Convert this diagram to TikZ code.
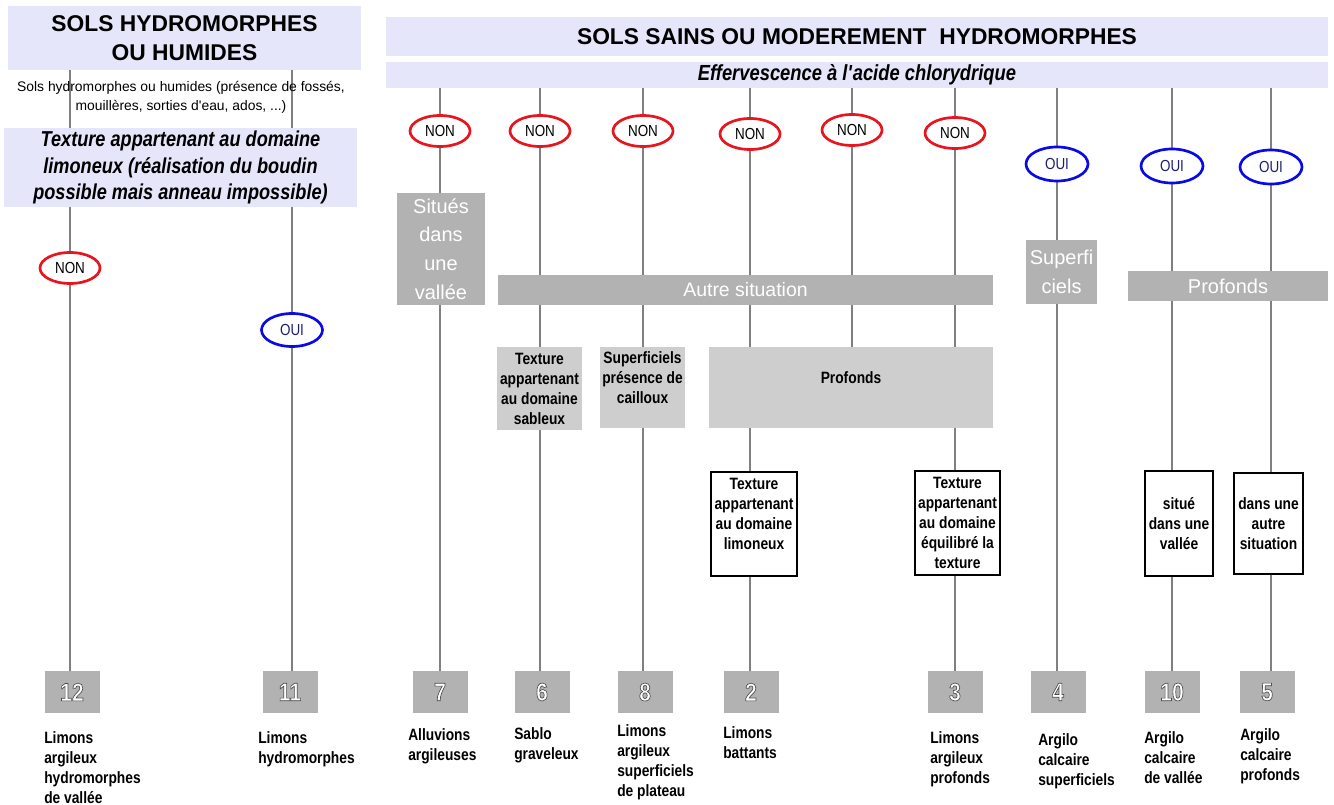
\documentclass[tikz,border=0pt]{standalone}
\usepackage{fontspec}
\setmainfont{Liberation Sans}
\newfontfamily\narr[FakeStretch=0.84]{Liberation Sans}
\usetikzlibrary{shapes.geometric,backgrounds}
\definecolor{lav}{RGB}{230,230,250}
\definecolor{boxgray}{RGB}{178,178,178}
\definecolor{lightbox}{RGB}{206,206,206}
\definecolor{linegray}{RGB}{128,128,128}
\definecolor{nonred}{RGB}{232,20,30}
\definecolor{ouiblue}{RGB}{10,10,230}
\definecolor{ouitext}{RGB}{30,30,110}
\newcommand\outl[1]{\special{pdf:literal direct 0.3 0.3 0.3 RG 0.5 w 2 Tr}#1\special{pdf:literal direct 0 Tr}}
\begin{document}
\begin{tikzpicture}[x=0.75pt,y=-0.75pt,
  wh/.style 2 args={minimum width=#1*0.75pt, minimum height=#2*0.75pt},
  base/.style={inner sep=0pt, outer sep=0pt, align=center},
  hdr/.style={base, fill=lav},
  gbox/.style={base, fill=boxgray, text=white, font=\fontsize{15}{21.5}\selectfont},
  lbox/.style={base, fill=lightbox, font=\narr\bfseries\fontsize{12.3}{15}\selectfont},
  wbox/.style={base, draw=black, line width=0.8pt, fill=white, font=\narr\bfseries\fontsize{12.3}{15}\selectfont},
  nonE/.style={ellipse, draw=nonred, line width=2pt, fill=white, inner sep=0pt, outer sep=0pt, wh={60}{31}, font=\narr\fontsize{12}{13}\selectfont},
  ouiE/.style={ellipse, draw=ouiblue, line width=2pt, fill=white, inner sep=0pt, outer sep=0pt, wh={61}{33}, text=ouitext, font=\narr\fontsize{12}{13}\selectfont},
  numbox/.style={base, fill=boxgray, wh={55}{42}, text=white, font=\narr\bfseries\fontsize{19}{20}\selectfont},
  lbl/.style={inner sep=0pt, anchor=north west, align=left, font=\narr\bfseries\fontsize{12.3}{15}\selectfont},
  ln/.style={draw=linegray, line width=2.2pt}]
\useasboundingbox (0,0) rectangle (1334,805);

% headers
\node[hdr, wh={353}{64}, font=\bfseries\fontsize{17.1}{21.75}\selectfont] (hleft) at (184.5,38) {SOLS HYDROMORPHES\\OU HUMIDES};
\node[base, font=\fontsize{10.4}{14.25}\selectfont] (sub) at (181,97) {Sols hydromorphes ou humides (présence de fossés,\\mouillères, sorties d\textquotesingle eau, ados, ...)};
\node[hdr, wh={353}{79}, font=\narr\bfseries\itshape\fontsize{16.2}{19.9}\selectfont] (tex) at (180.5,167.5) {Texture appartenant au domaine\\limoneux (réalisation du boudin\\possible mais anneau impossible)};
\node[hdr, wh={942}{39}, font=\bfseries\fontsize{17.1}{20}\selectfont] (hright) at (857,36.5) {SOLS SAINS OU MODEREMENT\ \ HYDROMORPHES};
\node[hdr, wh={942}{26}, font=\narr\bfseries\itshape\fontsize{16.4}{17}\selectfont] (eff) at (857,75) {Effervescence à l\textquotesingle acide chlorydrique};

% ellipses
\node[nonE] (nonL) at (70,268) {NON};
\node[ouiE] (ouiL) at (292,330) {OUI};
\node[nonE] (n7) at (440,131) {NON};
\node[nonE] (n6) at (540,131) {NON};
\node[nonE] (n8) at (643,131) {NON};
\node[nonE] (n2) at (750,134) {NON};
\node[nonE] (n5) at (852,130) {NON};
\node[nonE] (n3) at (955,133) {NON};
\node[ouiE, wh={62}{34}] (o4) at (1057,164) {OUI};
\node[ouiE, wh={62}{34}] (o10) at (1172,166) {OUI};
\node[ouiE, wh={62}{34}] (o5) at (1271,167) {OUI};

% gray boxes
\node[gbox, wh={88}{112}] (sit) at (441,249) {Situés\\dans\\une\\vallée};
\node[gbox, wh={495}{30}, font=\fontsize{14.6}{16}\selectfont] (autre) at (745.5,290) {Autre situation};
\node[gbox, wh={71}{64}] (sup4) at (1061.5,272) {Superfi\\ciels};
\node[gbox, wh={200}{30}, font=\fontsize{15}{16}\selectfont] (prof2) at (1228,286) {Profonds};

% light boxes
\node[lbox, wh={85}{83}] (sab) at (539.5,388.5) {Texture\\appartenant\\au domaine\\sableux};
\node[lbox, wh={85}{81}] (supc) at (642.5,387.5) {Superficiels\\présence de\\cailloux\\~};
\node[lbox, wh={284}{81}] (prof1) at (851,387.5) {Profonds\\~};

% white boxes
\node[wbox, wh={86}{104}] (lim) at (754,524) {Texture\\appartenant\\au domaine\\limoneux\\~};
\node[wbox, wh={85}{104}] (equ) at (957.5,523) {Texture\\appartenant\\au domaine\\équilibré la\\texture};
\node[wbox, wh={68}{105}] (val) at (1179,523.5) {situé\\dans une\\vallée};
\node[wbox, wh={69}{101}] (aut) at (1268.5,523.5) {dans une\\autre\\situation};

% number boxes
\node[numbox] (b12) at (72,692) {\outl{12}};
\node[numbox] (b11) at (290,692) {\outl{11}};
\node[numbox] (b7) at (440,692) {\outl{7}};
\node[numbox] (b6) at (542,692) {\outl{6}};
\node[numbox] (b8) at (645,692) {\outl{8}};
\node[numbox] (b2) at (751,692) {\outl{2}};
\node[numbox] (b3) at (955,692) {\outl{3}};
\node[numbox] (b4) at (1058,692) {\outl{4}};
\node[numbox] (b10) at (1172,692) {\outl{10}};
\node[numbox] (b5) at (1267,692) {\outl{5}};

% labels
\node[lbl] (l12) at (44,731) {Limons\\argileux\\hydromorphes\\de vallée};
\node[lbl] (l11) at (258,731) {Limons\\hydromorphes};
\node[lbl] (l7) at (408,728) {Alluvions\\argileuses};
\node[lbl] (l6) at (514,727) {Sablo\\graveleux};
\node[lbl] (l8) at (617,724) {Limons\\argileux\\superficiels\\de plateau};
\node[lbl] (l2) at (723,726) {Limons\\battants};
\node[lbl] (l3) at (930,731) {Limons\\argileux\\profonds};
\node[lbl] (l4) at (1038,733) {Argilo\\calcaire\\superficiels};
\node[lbl] (l10) at (1144,731) {Argilo\\calcaire\\de vallée};
\node[lbl] (l5) at (1240,728) {Argilo\\calcaire\\profonds};

% connectors
\begin{pgfonlayer}{background}
\fill[white] (0,0) rectangle (1334,805);
\draw[ln] (hleft.south -| nonL) -- (nonL |- b12.north);
\draw[ln] (hleft.south -| ouiL) -- (ouiL |- b11.north);
\draw[ln] (eff.south -| n7) -- (n7 |- b7.north);
\draw[ln] (eff.south -| n6) -- (n6 |- b6.north);
\draw[ln] (eff.south -| n8) -- (n8 |- b8.north);
\draw[ln] (eff.south -| n2) -- (n2 |- b2.north);
\draw[ln] (eff.south -| n5) -- (n5 |- prof1.north);
\draw[ln] (eff.south -| n3) -- (n3 |- b3.north);
\draw[ln] (eff.south -| o4) -- (o4 |- b4.north);
\draw[ln] (eff.south -| o10) -- (o10 |- b10.north);
\draw[ln] (eff.south -| o5) -- (o5 |- b5.north);
\end{pgfonlayer}
\end{tikzpicture}
\end{document}
